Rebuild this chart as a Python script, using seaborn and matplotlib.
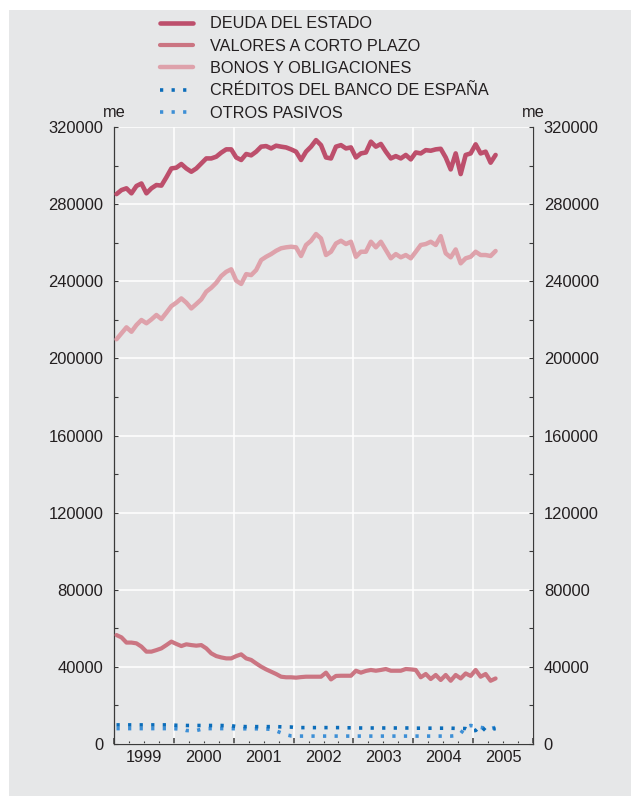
import numpy as np
import pandas as pd
import matplotlib
matplotlib.use("Agg")
import matplotlib.pyplot as plt
from matplotlib.ticker import FixedLocator, FuncFormatter, NullFormatter
from matplotlib.patches import Rectangle
import seaborn as sns

# Monthly series, January 1999 - May 2005 (millions of euros)
start_year = 1999
n_months = 77

deuda_estado = [
    285200, 287300, 288200, 285600, 289400, 290700, 285600, 288200, 289900, 289600, 293900, 298500,
    298900, 300800, 298500, 296800, 298500, 301100, 303700, 303700, 304600, 306700, 308400, 308400,
    304200, 302900, 306000, 305300, 307200, 309800, 310100, 308900, 310300, 309800, 309400, 308400,
    307200, 302900, 307200, 309800, 313200, 310600, 304200, 303700, 309800, 310600, 308900, 309400,
    304200, 306300, 306800, 312400, 309800, 311200, 307200, 303700, 304900, 303700, 305500, 303200,
    306800, 306300, 308000, 307700, 308400, 308700, 304200, 298000, 306300, 295600, 305500, 306300,
    311000, 306300, 307200, 301500, 305500,
]

valores_corto = [
    56500, 55300, 52600, 52600, 52200, 50500, 47900, 47900, 48700, 49600, 51300, 53100,
    51900, 50800, 51700, 51300, 51000, 51300, 49600, 47000, 45600, 44900, 44400, 44400,
    45600, 46500, 44400, 43600, 41800, 40100, 38700, 37500, 36300, 34900, 34600, 34600,
    34400, 34700, 34900, 34900, 34900, 34900, 37000, 33500, 35300, 35400, 35400, 35400,
    38000, 37000, 37900, 38400, 38000, 38400, 38900, 38000, 38000, 38000, 38900, 38700,
    38400, 34600, 36300, 33700, 35800, 33200, 35800, 32800, 35800, 34000, 36600, 35300,
    38400, 34900, 36300, 32800, 34000,
]

bonos_obligaciones = [
    209900, 213000, 216100, 213800, 217300, 219900, 218200, 220200, 222500, 220400, 223700, 227100,
    228900, 231100, 228900, 225900, 228200, 230600, 234600, 236600, 239200, 242700, 244900, 246200,
    240300, 238600, 243700, 243200, 245800, 251000, 252700, 254100, 255800, 257100, 257600, 257900,
    257600, 253100, 258800, 261000, 264500, 262200, 253600, 255300, 259600, 261000, 259300, 260500,
    252700, 255300, 255300, 260500, 257600, 260500, 256200, 251900, 254100, 252400, 253600, 251900,
    255300, 258800, 259300, 260500, 258800, 263400, 254500, 252400, 256500, 249300, 251900, 252700,
    255300, 253600, 253600, 253100, 255700,
]

creditos_banco_espana = [
    9900, 9900, 9900, 9900, 9900, 9900, 9900, 9900, 9900, 9900, 9900, 9900,
    9700, 9700, 9600, 9600, 9600, 9600, 9600, 9600, 9600, 9600, 9500, 9500,
    9100, 9100, 9000, 9000, 9000, 9000, 9000, 9000, 9000, 8900, 8800, 8800,
    8500, 8500, 8500, 8500, 8500, 8500, 8500, 8500, 8500, 8500, 8400, 8400,
    8300, 8300, 8300, 8300, 8300, 8300, 8300, 8300, 8300, 8300, 8300, 8300,
    8200, 8200, 8200, 8200, 8200, 8200, 8200, 8200, 8100, 8100, 8000, 6800,
    7000, 9400, 6900, 7500, 8000,
]

otros_pasivos = [
    8000, 8000, 8000, 8000, 8000, 8000, 8000, 8000, 8000, 8000, 8000, 8000,
    7900, 7700, 7000, 6900, 7000, 7600, 8000, 8000, 8000, 8000, 8000, 8000,
    7900, 7900, 7900, 7900, 7900, 7900, 7800, 7600, 6800, 5800, 4800, 4200,
    4100, 4100, 4100, 4100, 4100, 4100, 4100, 4100, 4100, 4100, 4100, 4100,
    4100, 4100, 4100, 4100, 4100, 4100, 4100, 4100, 4100, 4100, 4100, 4100,
    4100, 4100, 4100, 4100, 4100, 4100, 4100, 4100, 4300, 5500, 8800, 9600,
    9200, 8600, 8200, 8000, 8600,
]

series_names = [
    "DEUDA DEL ESTADO",
    "VALORES A CORTO PLAZO",
    "BONOS Y OBLIGACIONES",
    "CRÉDITOS DEL BANCO DE ESPAÑA",
    "OTROS PASIVOS",
]
year_labels = ["1999", "2000", "2001", "2002", "2003", "2004", "2005"]
y_major = [0, 40000, 80000, 120000, 160000, 200000, 240000, 280000, 320000]
unit_label = "me"

BG = "#e6e7e8"
TXT = "#231f20"
SPINE = "#3a3a3a"
colors = ["#bd4f6c", "#cb7582", "#dea2ab", "#0b6dba", "#3d8fd6"]

sns.set_style("ticks", {"axes.facecolor": BG, "figure.facecolor": "white"})
plt.rcParams["font.family"] = ["Liberation Sans", "DejaVu Sans"]
plt.rcParams["font.size"] = 11

# mid-month positions in decimal years
t = start_year + (np.arange(n_months) + 0.5) / 12.0
df = pd.DataFrame({
    "t": t,
    series_names[0]: deuda_estado,
    series_names[1]: valores_corto,
    series_names[2]: bonos_obligaciones,
    series_names[3]: creditos_banco_espana,
    series_names[4]: otros_pasivos,
})

W, H = 631, 796
fig = plt.figure(figsize=(W / 100, H / 100), dpi=100, facecolor="white")
fig.patches.append(Rectangle((9 / W, 0), 1, 1 - 10 / H, transform=fig.transFigure,
                             facecolor=BG, edgecolor="none", zorder=-5))

ax = fig.add_axes([114 / W, 1 - 744 / H, 419 / W, 617 / H])
ax.set_facecolor(BG)
ax.set_zorder(2)

dotted = (0, (0.9, 2.3))
styles = [
    dict(lw=3.3, linestyle="-"),
    dict(lw=3.0, linestyle="-"),
    dict(lw=3.2, linestyle="-"),
    dict(lw=2.6, linestyle=dotted, dash_capstyle="butt"),
    dict(lw=2.6, linestyle=dotted, dash_capstyle="butt"),
]
draw_order = [4, 3, 2, 1, 0]
for k in draw_order:
    sns.lineplot(data=df, x="t", y=series_names[k], ax=ax, color=colors[k],
                 label=series_names[k], legend=False, zorder=3 + (4 - k), **styles[k])

ax.set_xlim(start_year, start_year + len(year_labels))
ax.set_ylim(0, 320000)
ax.set_xlabel("")
ax.set_ylabel("")

# x axis: year boundaries as major ticks, quarters as minor; year names at mid-year
bounds = [start_year + i for i in range(len(year_labels) + 1)]
quarters = [start_year + i + q for i in range(len(year_labels)) for q in (0.25, 0.5, 0.75)]
ax.xaxis.set_major_locator(FixedLocator(bounds))
ax.xaxis.set_major_formatter(NullFormatter())
ax.xaxis.set_minor_locator(FixedLocator(quarters))


def year_fmt(x, pos):
    frac = x - np.floor(x)
    if abs(frac - 0.5) < 1e-6:
        idx = int(np.floor(x)) - start_year
        if 0 <= idx < len(year_labels):
            return year_labels[idx]
    return ""


ax.xaxis.set_minor_formatter(FuncFormatter(year_fmt))
ax.tick_params(axis="x", which="major", direction="in", length=4.3, width=1.1, color=SPINE)
ax.tick_params(axis="x", which="minor", direction="in", length=2.2, width=0.8, color=SPINE,
               labelsize=11.8, labelcolor=TXT, pad=4)

# y axis on both sides
ax.yaxis.set_major_locator(FixedLocator(y_major))
ax.yaxis.set_minor_locator(FixedLocator([v + 20000 for v in y_major[:-1]]))
ax.yaxis.set_major_formatter(FuncFormatter(lambda v, p: f"{int(v)}"))
ax.tick_params(axis="y", which="both", direction="in", length=3, width=0.8, color=SPINE,
               left=True, right=True, labelleft=True, labelright=True)
ax.tick_params(axis="y", which="major", labelsize=11.9, labelcolor=TXT, pad=7.8)

ax.grid(axis="y", which="major", color="white", lw=1.1)
ax.grid(axis="x", which="major", color="white", lw=1.1)
ax.set_axisbelow(True)

for side in ("left", "right", "bottom"):
    ax.spines[side].set_visible(True)
    ax.spines[side].set_color(SPINE)
    ax.spines[side].set_linewidth(0.9)
ax.spines["top"].set_visible(False)

ax.text(0, 1 + 10 / 617, unit_label, transform=ax.transAxes, ha="center", va="baseline",
        fontsize=11.8, color=TXT)
ax.text(1, 1 + 10 / 617, unit_label, transform=ax.transAxes, ha="center", va="baseline",
        fontsize=11.8, color=TXT)

handles = {ln.get_label(): ln for ln in ax.get_lines()}
fig.legend([handles[n] for n in series_names], series_names,
           loc="upper left", bbox_to_anchor=(160 / W, 1 - 16.5 / H),
           frameon=False, borderpad=0, borderaxespad=0, fontsize=11.7,
           handlelength=2.05, handletextpad=1.0, labelspacing=0.45,
           labelcolor=TXT)

fig.savefig("out.png", dpi=100, facecolor="white")
